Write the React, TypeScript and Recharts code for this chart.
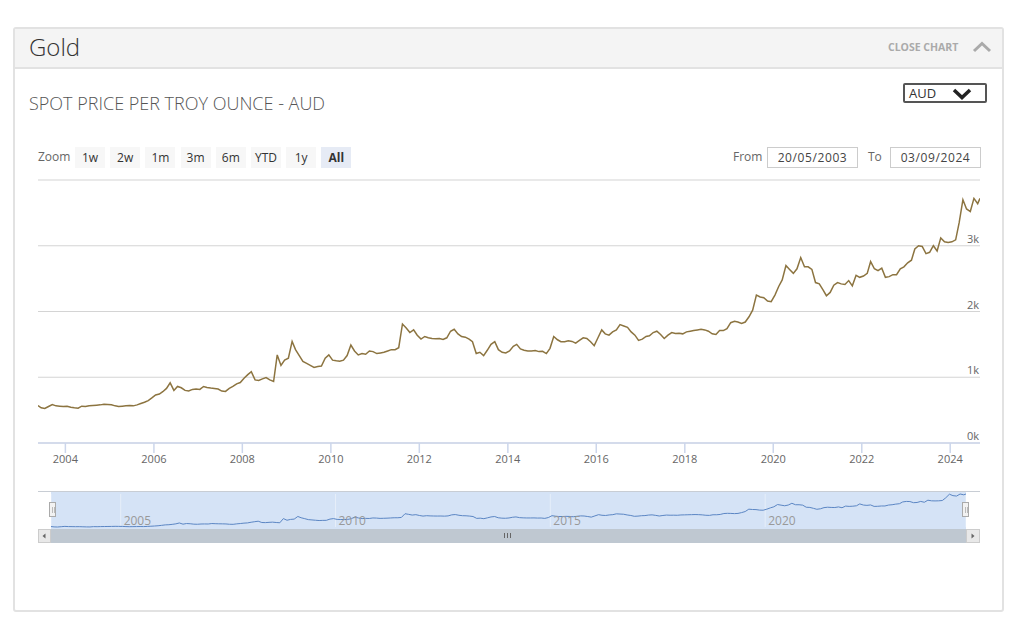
import React from 'react';
import { LineChart, Line, XAxis, YAxis, CartesianGrid } from 'recharts';

// AUD spot price per troy ounce, monthly readings (May 2003 .. Sep 2024)
const prices2003to2006 = [
  570, 535, 525, 555, 585, 565, 560, 555,
  558, 545, 535, 530, 560, 555, 565, 570, 575, 580, 590, 585,
  580, 565, 555, 560, 565, 570, 565, 580, 600, 620, 645, 685,
  730, 745, 780, 830, 915, 800, 860, 840, 800, 790, 815, 820,
];
const prices2007to2011 = [
  815, 860, 845, 835, 830, 820, 790, 785, 830, 860, 900, 920,
  985, 1040, 1085, 960, 950, 975, 995, 960, 935, 1340, 1180, 1260,
  1290, 1545, 1420, 1330, 1240, 1210, 1180, 1150, 1165, 1170, 1290, 1340,
  1260, 1250, 1245, 1260, 1330, 1490, 1400, 1340, 1360, 1350, 1400, 1390,
  1360, 1370, 1380, 1400, 1420, 1420, 1450, 1810, 1750, 1680, 1720, 1640,
];
const prices2012to2016 = [
  1580, 1620, 1600, 1590, 1585, 1590, 1575, 1600, 1700, 1730, 1660, 1620,
  1610, 1580, 1540, 1360, 1380, 1330, 1410, 1500, 1540, 1420, 1380, 1370,
  1400, 1470, 1500, 1430, 1410, 1400, 1400, 1405, 1390, 1395, 1360, 1440,
  1620, 1570, 1540, 1540, 1555, 1545, 1520, 1560, 1600, 1590, 1540, 1480,
  1600, 1720, 1660, 1640, 1690, 1720, 1800, 1780, 1760, 1690, 1640, 1560,
];
const prices2017to2021 = [
  1580, 1620, 1630, 1680, 1700, 1650, 1590, 1640, 1680, 1665, 1670, 1660,
  1690, 1700, 1710, 1720, 1730, 1720, 1700, 1660, 1650, 1710, 1710, 1740,
  1830, 1850, 1840, 1820, 1840, 1920, 2020, 2250, 2220, 2210, 2160, 2150,
  2250, 2380, 2480, 2700, 2640, 2580, 2650, 2820, 2680, 2680, 2640, 2440,
  2420, 2330, 2240, 2290, 2400, 2440, 2420, 2410, 2470, 2390, 2550, 2520,
];
const prices2022to2024 = [
  2540, 2580, 2760, 2650, 2620, 2660, 2520, 2530, 2560, 2560, 2650, 2680,
  2740, 2780, 2950, 3000, 2990, 2880, 2900, 3000, 2920, 3120, 3060, 3050,
  3060, 3090, 3350, 3700, 3560, 3520, 3720, 3640, 3720,
];

const START = Date.UTC(2003, 4, 20);
const END = Date.UTC(2024, 8, 3);
const xTickYears = [2004, 2006, 2008, 2010, 2012, 2014, 2016, 2018, 2020, 2022, 2024];
const navTickYears = [2005, 2010, 2015, 2020];
const yTicks = [0, 1000, 2000, 3000, 4000];
const zoomButtons = ['1w', '2w', '1m', '3m', '6m', 'YTD', '1y', 'All'];

const allPrices = [
  ...prices2003to2006,
  ...prices2007to2011,
  ...prices2012to2016,
  ...prices2017to2021,
  ...prices2022to2024,
];
const data = allPrices.map((price, i) => {
  let t = Date.UTC(2003, 4 + i, 15);
  if (i === 0) t = START;
  if (i === allPrices.length - 1) t = END;
  return { t, price };
});

const FONT = '"Open Sans", "DejaVu Sans", sans-serif';
const GOLD = '#8c7440';

const YTick = ({ x, y, payload }: any) => {
  if (payload.value === 4000) return null;
  return (
    <text x={x} y={y - 3} textAnchor="end" fill="#666" fontSize={11} fontFamily={FONT}>
      {`${payload.value / 1000}k`}
    </text>
  );
};

const NavTick = ({ x, y, payload }: any) => (
  <text x={x + 3} y={y - 2} fill="#999" fontSize={12} fontFamily={FONT}>
    {new Date(payload.value).getUTCFullYear()}
  </text>
);

const Chevron = ({ up, color, w }: { up?: boolean; color: string; w: number }) => (
  <svg width={20} height={12} viewBox="0 0 20 12" style={{ display: 'block' }}>
    <polyline
      points={up ? '2,10 10,2.5 18,10' : '2,2 10,9.5 18,2'}
      fill="none"
      stroke={color}
      strokeWidth={w}
    />
  </svg>
);

export default function App() {
  const abs = (l: number, t: number, extra: React.CSSProperties = {}): React.CSSProperties => ({
    position: 'absolute',
    left: l,
    top: t,
    ...extra,
  });

  return (
    <div style={{ position: 'absolute', left: 0, top: 0, width: 1024, height: 639, background: '#fff', fontFamily: FONT }}>
      {/* panel */}
      <div style={abs(13, 27, { width: 991, height: 585, border: '2px solid #e2e2e2', borderRadius: 3, boxSizing: 'border-box' })} />
      <div style={abs(15, 29, { width: 987, height: 38, background: '#f4f4f4', borderBottom: '2px solid #e2e2e2' })} />
      <div style={abs(29, 31, { fontSize: 24, lineHeight: '32px', fontWeight: 300, color: '#333' })}>Gold</div>
      <div style={abs(888, 41, { fontSize: 10.5, lineHeight: '13px', fontWeight: 700, color: '#aaa' })}>CLOSE CHART</div>
      <div style={abs(972, 41)}><Chevron up color="#aaa" w={3} /></div>

      <div style={abs(29, 91, { fontSize: 18, lineHeight: '24px', fontWeight: 300, color: '#555' })}>
        SPOT PRICE PER TROY OUNCE - AUD
      </div>
      <div style={abs(903, 83, { width: 84, height: 20, border: '2px solid #555', borderRadius: 2, boxSizing: 'border-box' })}>
        <span style={abs(4, 0, { fontSize: 13, lineHeight: '16px', color: '#333' })}>AUD</span>
        <span style={abs(47, 3)}><Chevron color="#222" w={3.5} /></span>
      </div>

      {/* range selector */}
      <div style={abs(38, 149, { fontSize: 12, lineHeight: '16px', color: '#666' })}>Zoom</div>
      {zoomButtons.map((b, i) => (
        <div
          key={b}
          style={abs(75 + i * 35.2, 147, {
            width: 30,
            height: 21,
            lineHeight: '21px',
            textAlign: 'center',
            fontSize: 12,
            color: '#333',
            background: b === 'All' ? '#e6ebf5' : '#f7f7f7',
            fontWeight: b === 'All' ? 700 : 400,
          })}
        >
          {b}
        </div>
      ))}
      <div style={abs(733, 149, { fontSize: 12, lineHeight: '16px', color: '#666' })}>From</div>
      <div style={abs(767, 147, { width: 91, height: 21, border: '1px solid #ccc', boxSizing: 'border-box', fontSize: 12, lineHeight: '19px', textAlign: 'center', color: '#444', letterSpacing: 0.6 })}>
        20/05/2003
      </div>
      <div style={abs(868, 149, { fontSize: 12, lineHeight: '16px', color: '#666' })}>To</div>
      <div style={abs(890, 147, { width: 91, height: 21, border: '1px solid #ccc', boxSizing: 'border-box', fontSize: 12, lineHeight: '19px', textAlign: 'center', color: '#444', letterSpacing: 0.6 })}>
        03/09/2024
      </div>

      {/* main chart */}
      <div style={abs(38, 175)}>
        <LineChart width={943} height={300} data={data} margin={{ top: 5, right: 1, bottom: 0, left: 0 }}>
          <CartesianGrid vertical={false} stroke="#d4d4d4" strokeWidth={1.2} />
          <XAxis
            dataKey="t"
            type="number"
            domain={[START, END]}
            allowDataOverflow
            ticks={xTickYears.map((y) => Date.UTC(y, 0, 1))}
            tickFormatter={(v) => String(new Date(v).getUTCFullYear())}
            height={32}
            stroke="#ccd6eb"
            strokeWidth={1.5}
            tickSize={10}
            tickMargin={2}
            tick={{ fill: '#666', fontSize: 11, fontFamily: FONT }}
          />
          <YAxis
            orientation="right"
            mirror
            domain={[0, 4000]}
            ticks={yTicks}
            axisLine={false}
            tickLine={false}
            tickSize={0}
            tickMargin={1}
            tick={<YTick />}
          />
          <Line type="linear" dataKey="price" stroke={GOLD} strokeWidth={1.5} dot={false} isAnimationActive={false} />
        </LineChart>
      </div>

      {/* navigator */}
      <div style={abs(38, 491, { width: 942, height: 1, background: '#c8cdd4' })} />
      <div style={abs(51, 492, { width: 915, height: 37, background: '#d5e3f6' })} />
      <div style={abs(51, 491)}>
        <LineChart width={915} height={37} data={data} margin={{ top: 3, right: 0, bottom: 1, left: 0 }}>
          <CartesianGrid horizontal={false} stroke="#e6eef9" />
          <XAxis
            dataKey="t"
            type="number"
            domain={[START, END]}
            ticks={navTickYears.map((y) => Date.UTC(y, 0, 1))}
            mirror
            axisLine={false}
            tickLine={false}
            tickSize={0}
            tickMargin={0}
            tick={<NavTick />}
          />
          <YAxis hide domain={['dataMin', 'dataMax']} />
          <Line type="linear" dataKey="price" stroke="#5b86c4" strokeWidth={1} dot={false} isAnimationActive={false} />
        </LineChart>
      </div>
      {[49, 962].map((l) => (
        <div key={l} style={abs(l, 502, { width: 7, height: 15, background: '#f2f2f2', border: '1px solid #aaa', boxSizing: 'border-box' })}>
          <div style={abs(2, 4, { width: 1, height: 6, background: '#bbb' })} />
          <div style={abs(4, 4, { width: 1, height: 6, background: '#bbb' })} />
        </div>
      ))}

      {/* scrollbar */}
      <div style={abs(38, 529, { width: 942, height: 14, background: '#eee' })} />
      <div style={abs(51, 529, { width: 915, height: 14, background: '#bfc8d1' })} />
      {[504, 507, 510].map((l) => (
        <div key={l} style={abs(l, 533, { width: 1, height: 5, background: '#666' })} />
      ))}
      <div style={abs(38, 529, { width: 13, height: 14, background: '#e8e8e8', border: '1px solid #ccc', boxSizing: 'border-box' })}>
        <svg width={11} height={12} style={abs(0, 0)}>
          <polygon points="3.5,6 6.5,3.5 6.5,8.5" fill="#666" />
        </svg>
      </div>
      <div style={abs(966, 529, { width: 14, height: 14, background: '#e8e8e8', border: '1px solid #ccc', boxSizing: 'border-box' })}>
        <svg width={12} height={12} style={abs(0, 0)}>
          <polygon points="7.5,6 4.5,3.5 4.5,8.5" fill="#666" />
        </svg>
      </div>
    </div>
  );
}
